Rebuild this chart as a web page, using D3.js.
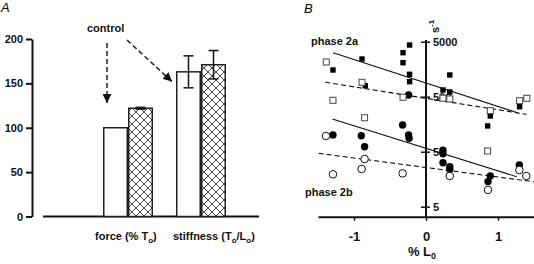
<!DOCTYPE html>
<html>
<head>
<meta charset="utf-8">
<script src="https://cdn.jsdelivr.net/npm/d3@7"></script>
<style>
  body { margin: 0; background: #fff; }
  svg { display: block; font-family: "Liberation Sans", Arial, sans-serif; }
  .bold { font-weight: bold; }
</style>
</head>
<body>
<div id="chart"></div>
<script>
// ---- panel A data ----
const groups = ["force", "stiffness"];
const conditions = ["control", "test"];
const controlVals = [100, 163];
const controlErr = [0, 18];
const testVals = [122, 171];
const testErr = [1, 16];
const yTicksA = [0, 50, 100, 150, 200];

// ---- panel B data ([% L0, rate s^-1]) ----
const phase2aFilled = [[-0.889, 2424], [-1.292, 1529], [-0.319, 3155], [-0.319, 2075], [-0.228, 4355],
  [-0.228, 1276], [-0.228, 937], [-0.843, 792], [0.33, 1241], [0.236, 662], [0.33, 610],
  [0.893, 223], [0.856, 147], [1.3, 329]];
const phase2aOpen = [[-1.385, 2138], [-0.889, 914], [-1.292, 430], [-0.853, 207], [-0.319, 488],
  [0.236, 470], [0.33, 455], [0.893, 278], [1.3, 423], [1.4, 468], [0.856, 51.5]];
const phase2bFilled = [[-0.242, 537], [-0.325, 153], [-1.292, 101], [-0.899, 97.7], [-0.853, 61.7],
  [-0.242, 101], [-0.235, 87.7], [0.236, 53], [0.236, 46], [0.236, 31.5], [0.33, 26.7],
  [0.33, 23.9], [0.893, 18.1], [0.861, 14.3], [1.296, 28.7]];
const phase2bOpen = [[-1.389, 96.5], [-0.853, 36.8], [-1.292, 19.4], [-0.894, 24.2], [-0.325, 20.2],
  [0.33, 18.1], [0.861, 10.1], [1.296, 23.2], [1.393, 18.1]];
const fits = [
  { pts: [[-1.29, 3155], [1.28, 253]], dash: null },
  { pts: [[-1.4, 914], [1.4, 239]], dash: "5,3" },
  { pts: [[-1.3, 197], [1.26, 17.5]], dash: null },
  { pts: [[-1.49, 46.7], [1.5, 14.2]], dash: "5,3" }
];
const xTicksB = [-1, 0, 1];
const yTicksB = [5, 50, 500, 5000];

const W = 534, H = 264;
const svg = d3.select("#chart").append("svg").attr("width", W).attr("height", H);

const defs = svg.append("defs");
const pat = defs.append("pattern").attr("id", "hatch")
  .attr("patternUnits", "userSpaceOnUse").attr("width", 8).attr("height", 8);
pat.append("rect").attr("width", 8).attr("height", 8).attr("fill", "#fff");
pat.append("path").attr("d", "M0,0L8,8M8,0L0,8M-1,7L1,9M7,-1L9,1")
  .attr("stroke", "#333").attr("stroke-width", 0.9);
defs.append("marker").attr("id", "arrow").attr("viewBox", "0 0 10 10")
  .attr("refX", 10).attr("refY", 5).attr("markerWidth", 9).attr("markerHeight", 9)
  .attr("markerUnits", "userSpaceOnUse").attr("orient", "auto")
  .append("path").attr("d", "M0,0L10,5L0,10Z").attr("fill", "#111");

// ================= panel A =================
const yA = d3.scaleLinear().domain([0, 200]).range([216.5, 39]);
const xA = d3.scaleBand().domain(groups).range([103, 226]).paddingInner(0.315).paddingOuter(0);
const xSub = d3.scaleBand().domain(conditions).range([0, xA.bandwidth()]);

svg.append("text").attr("x", 1).attr("y", 12).attr("font-style", "italic")
  .attr("font-size", 13).text("A");

const axA = svg.append("g").attr("transform", "translate(32,0)")
  .call(d3.axisLeft(yA).tickValues(yTicksA).tickSize(6).tickSizeOuter(0).tickPadding(3));
axA.select(".domain").attr("stroke-width", 2).attr("stroke", "#111");
axA.selectAll(".tick line").attr("stroke-width", 2).attr("stroke", "#111");
axA.selectAll(".tick text").attr("class", "bold").attr("font-size", 11)
  .attr("font-family", "Liberation Sans, Arial, sans-serif").attr("fill", "#111");

svg.append("line").attr("x1", 43).attr("x2", 259).attr("y1", yA(0)).attr("y2", yA(0))
  .attr("stroke", "#111").attr("stroke-width", 2);

const barRows = groups.flatMap((g, i) => [
  { g, c: "control", v: controlVals[i], e: controlErr[i] },
  { g, c: "test", v: testVals[i], e: testErr[i] }
]);

svg.append("g").selectAll("rect").data(barRows).join("rect")
  .attr("x", d => xA(d.g) + xSub(d.c) + 0.75)
  .attr("width", xSub.bandwidth() - 1.5)
  .attr("y", d => yA(d.v))
  .attr("height", d => yA(0) - yA(d.v))
  .attr("fill", d => d.c === "test" ? "url(#hatch)" : "#fff")
  .attr("stroke", "#222").attr("stroke-width", 1.5);

const eb = svg.append("g").selectAll("g").data(barRows.filter(d => d.e > 0)).join("g")
  .attr("stroke", "#111").attr("stroke-width", 1.5);
const cx = d => xA(d.g) + xSub(d.c) + xSub.bandwidth() / 2;
eb.append("line").attr("x1", cx).attr("x2", cx)
  .attr("y1", d => yA(d.v + d.e)).attr("y2", d => yA(d.v - d.e));
eb.append("line").attr("x1", d => cx(d) - 5).attr("x2", d => cx(d) + 5)
  .attr("y1", d => yA(d.v + d.e)).attr("y2", d => yA(d.v + d.e));
eb.append("line").attr("x1", d => cx(d) - 5).attr("x2", d => cx(d) + 5)
  .attr("y1", d => yA(d.v - d.e)).attr("y2", d => yA(d.v - d.e));

// group labels
const lab = svg.append("g").attr("class", "bold").attr("font-size", 11).attr("fill", "#111");
const forceLab = lab.append("text").attr("x", xA("force") - 8).attr("y", 240);
forceLab.append("tspan").text("force (% T");
forceLab.append("tspan").attr("font-size", 8).attr("dy", 3).text("o");
forceLab.append("tspan").attr("dy", -3).text(")");
const stiffLab = lab.append("text").attr("x", xA("stiffness") - 3).attr("y", 240);
stiffLab.append("tspan").text("stiffness (T");
stiffLab.append("tspan").attr("font-size", 8).attr("dy", 3).text("o");
stiffLab.append("tspan").attr("dy", -3).text("/L");
stiffLab.append("tspan").attr("font-size", 8).attr("dy", 3).text("o");
stiffLab.append("tspan").attr("dy", -3).text(")");

// control annotation
svg.append("text").attr("class", "bold").attr("font-size", 11).attr("fill", "#111")
  .attr("x", 87).attr("y", 32).text("control");
const ann = svg.append("g").attr("stroke", "#222").attr("stroke-width", 1.5)
  .attr("stroke-dasharray", "5,3").attr("fill", "none");
ann.append("line").attr("x1", xA("force") + 4).attr("x2", xA("force") + 4)
  .attr("y1", 43).attr("y2", yA(128)).attr("marker-end", "url(#arrow)");
ann.append("line").attr("x1", 127).attr("y1", 40)
  .attr("x2", xA("stiffness") - 4).attr("y2", yA(152)).attr("marker-end", "url(#arrow)");

// ================= panel B =================
const xB = d3.scaleLinear().domain([-1.5, 1.5]).range([318, 534]);
const yB = d3.scaleLog().domain([5, 5000]).range([206.7, 41.7]);

svg.append("text").attr("x", 304).attr("y", 13).attr("font-style", "italic")
  .attr("font-size", 13).text("B");

// x axis
const axB = svg.append("g").attr("transform", "translate(0,216.7)")
  .call(d3.axisBottom(xB).tickValues(xTicksB).tickFormat(d3.format("d")).tickSize(4).tickSizeOuter(0));
axB.select(".domain").attr("stroke-width", 2).attr("stroke", "#111");
axB.selectAll(".tick line").attr("stroke-width", 1.5).attr("stroke", "#111");
axB.selectAll(".tick text").attr("class", "bold").attr("font-size", 13).attr("y", 15)
  .attr("font-family", "Liberation Sans, Arial, sans-serif").attr("fill", "#111")
  .text(d => d < 0 ? "-" + Math.abs(d) : d);

const xlab = svg.append("text").attr("class", "bold").attr("font-size", 13).attr("fill", "#111")
  .attr("text-anchor", "middle").attr("x", 422).attr("y", 256);
xlab.append("tspan").text("% L");
xlab.append("tspan").attr("font-size", 9).attr("dy", 3).text("0");

// y axis (log)
const xZero = xB(0);
svg.append("line").attr("x1", xZero).attr("x2", xZero).attr("y1", 40).attr("y2", 216.7)
  .attr("stroke", "#111").attr("stroke-width", 2);
const ayB = svg.append("g").attr("transform", `translate(${xZero},0)`)
  .call(d3.axisRight(yB).tickValues(yTicksB).tickFormat(d3.format("d")).tickSize(4).tickPadding(3));
ayB.select(".domain").remove();
ayB.selectAll(".tick line").attr("x1", -5).attr("x2", 4).attr("stroke-width", 1.5).attr("stroke", "#111");
ayB.selectAll(".tick text").attr("class", "bold").attr("font-size", 11)
  .attr("font-family", "Liberation Sans, Arial, sans-serif").attr("fill", "#111");

const ulab = svg.append("text").attr("class", "bold").attr("font-size", 11).attr("fill", "#111")
  .attr("transform", `translate(${xZero + 13},33) rotate(-90)`);
ulab.append("tspan").text("s");
ulab.append("tspan").attr("font-size", 8).attr("dy", -5).text("-1");

svg.append("text").attr("class", "bold").attr("font-size", 11).attr("fill", "#111")
  .attr("x", 311).attr("y", 45).text("phase 2a");
svg.append("text").attr("class", "bold").attr("font-size", 11).attr("fill", "#111")
  .attr("x", 305).attr("y", 196).text("phase 2b");

// fit lines
const line = d3.line().x(d => xB(d[0])).y(d => yB(d[1]));
svg.append("g").selectAll("path").data(fits).join("path")
  .attr("d", d => line(d.pts)).attr("fill", "none").attr("stroke", "#111")
  .attr("stroke-width", 1.1).attr("stroke-dasharray", d => d.dash);

// markers
const pts = svg.append("g");
pts.selectAll(".fs").data(phase2aFilled).join("rect").attr("class", "fs")
  .attr("x", d => xB(d[0]) - 2.7).attr("y", d => yB(d[1]) - 2.7)
  .attr("width", 5.4).attr("height", 5.4).attr("fill", "#000");
pts.selectAll(".fc").data(phase2bFilled).join("circle").attr("class", "fc")
  .attr("cx", d => xB(d[0])).attr("cy", d => yB(d[1])).attr("r", 3.7).attr("fill", "#000");
pts.selectAll(".os").data(phase2aOpen).join("rect").attr("class", "os")
  .attr("x", d => xB(d[0]) - 3).attr("y", d => yB(d[1]) - 3)
  .attr("width", 6).attr("height", 6).attr("fill", "#fff").attr("stroke", "#444").attr("stroke-width", 1);
pts.selectAll(".oc").data(phase2bOpen).join("circle").attr("class", "oc")
  .attr("cx", d => xB(d[0])).attr("cy", d => yB(d[1])).attr("r", 3.8)
  .attr("fill", "#fff").attr("stroke", "#111").attr("stroke-width", 1);
</script>
</body>
</html>
